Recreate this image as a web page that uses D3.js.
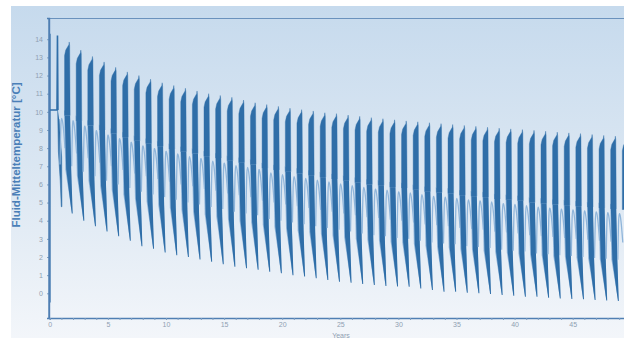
<!DOCTYPE html>
<html><head><meta charset="utf-8">
<script src="https://cdn.jsdelivr.net/npm/d3@7/dist/d3.min.js"></script>
<style>body{margin:0;background:#fff}svg{display:block}</style>
</head><body>
<svg id="chart" width="624" height="338"></svg>
<script>
// ---- data ----
const years = d3.range(1, 50);               // heating/cooling cycle index
// peak of the dense bar of each year (°C)
const peakVals = [13.85,13.4,13.05,12.75,12.45,12.2,12.0,11.8,11.6,11.45,
  11.3,11.15,11.0,10.9,10.8,10.65,10.5,10.4,10.3,10.2,
  10.12,10.05,9.95,9.9,9.82,9.75,9.68,9.62,9.56,9.5,
  9.45,9.4,9.35,9.3,9.25,9.2,9.15,9.1,9.06,9.02,
  8.98,8.93,8.88,8.84,8.8,8.75,8.7,8.66,8.6];
// level where the dense bar turns into the narrowing spike (°C)
const archVals = [9.8,9.5,9.25,9.0,8.8,8.6,8.4,8.25,8.1,7.95,
  7.8,7.7,7.55,7.45,7.3,7.2,7.1,6.9,6.8,6.7,
  6.6,6.5,6.4,6.3,6.2,6.1,6.0,5.95,5.85,5.8,
  5.7,5.6,5.55,5.5,5.4,5.35,5.3,5.2,5.15,5.1,
  5.0,4.95,4.9,4.85,4.8,4.75,4.7,4.65,4.6];
// yearly minimum after each bar, index 0 = start-up year (°C)
const minVals = [4.77,4.4,4.0,3.7,3.4,3.15,2.9,2.6,2.45,2.25,
  2.1,2.0,1.87,1.74,1.6,1.47,1.38,1.3,1.19,1.1,
  1.0,0.92,0.83,0.73,0.64,0.58,0.51,0.46,0.4,0.38,
  0.36,0.27,0.18,0.09,0.09,0.03,0.0,-0.04,-0.09,-0.13,
  -0.19,-0.19,-0.24,-0.28,-0.31,-0.33,-0.37,-0.4,-0.42];
// start-up: [time, value] points of the first months
const startT = [0, 0, 0, 0.62, 0.66, 0.7];
const startV = [-0.5, 14.3, 10.1, 10.1, 14.2, 10.1];
const xTickVals = [0,5,10,15,20,25,30,35,40,45];
const yTickVals = [0,1,2,3,4,5,6,7,8,9,10,11,12,13,14];

// ---- layout ----
const W = 624, H = 338;
const svg = d3.select("#chart");
const x = d3.scaleLinear().domain([0, 50]).range([49.8, 630.8]);
const y = d3.scaleLinear().domain([-1.36, 15.17]).range([318, 18]);
const dark = "#2f6ea8", light = "#8fb5da";
const font = "Liberation Sans, Arial, sans-serif";

const defs = svg.append("defs");
const g1 = defs.append("linearGradient").attr("id","bg").attr("x1",0).attr("y1",0).attr("x2",0).attr("y2",1);
g1.append("stop").attr("offset","0%").attr("stop-color","#c6daed");
g1.append("stop").attr("offset","55%").attr("stop-color","#dde8f3");
g1.append("stop").attr("offset","100%").attr("stop-color","#f3f6fa");
defs.append("clipPath").attr("id","clip").append("rect")
  .attr("x",49).attr("y",18).attr("width",W-49).attr("height",300);

svg.append("rect").attr("x",11).attr("y",6).attr("width",W-11).attr("height",H-6).attr("fill","url(#bg)");

const plot = svg.append("g").attr("clip-path","url(#clip)");
const line = d3.line().x(d=>x(d[0])).y(d=>y(d[1]));
const curve = d3.line().curve(d3.curveBasis).x(d=>x(d[0])).y(d=>y(d[1]));

// start-up year
plot.append("path").attr("d", line(startT.map((t,i)=>[t,startV[i]])))
  .attr("fill","none").attr("stroke",dark).attr("stroke-width",1.6);

const bs = 0.27, be = 0.72, sp = 0.93;   // bar start/end, spike time within a year

// start-up descent to first minimum
plot.append("path").attr("d", line([
  [0.68, 10.1],[0.74, 7.8],[0.9, 6.2],[0.99, minVals[0]],[1.04, minVals[0]],[1.02, 7.5],[0.8, 9.6]]))
  .attr("fill",dark).attr("stroke",dark).attr("stroke-width",0.6);

years.forEach((k, i) => {
  const P = peakVals[i], A = archVals[i], M = minVals[i+1];
  const A0 = i === 0 ? 9.9 : archVals[i-1];
  const s = k + bs, e = k + be, m = k + sp;
  const mid = A - 0.55 * (A - M);
  // light arch from previous spike toward this bar
  const prevRight = (k - 1) + be;
  plot.append("path")
    .attr("d", curve([
      [prevRight + 0.16, A0 - 2.8],[prevRight + 0.22, A0 - 0.6],[k + 0.0, A0 - 0.1],
      [k + 0.16, A - 0.5],[s + 0.04, A - 1.8]]))
    .attr("fill","none").attr("stroke",light).attr("stroke-width",1.3);
  // lighter shadow left of the spike
  plot.append("path")
    .attr("d", line([
      [s - 0.05, A + 0.3],[s + 0.06, mid],[m - 0.1, M + 0.3],[m, M],[e, A]]))
    .attr("fill",light).attr("stroke","none");
  // narrowing spike down to the yearly minimum
  plot.append("path")
    .attr("d", line([
      [s + 0.02, A],[s + 0.14, mid],[m - 0.04, M],[m + 0.04, M],[e + 0.12, mid],[e + 0.03, A]]))
    .attr("fill",dark).attr("stroke","none");
  // dense bar
  plot.append("path")
    .attr("d", line([
      [s, A],[s, P - 0.75],[s + 0.1, P - 0.45],[e - 0.08, P - 0.15],
      [e - 0.05, P],[e - 0.01, P - 0.2],[e + 0.03, A]]))
    .attr("fill",dark).attr("stroke",dark).attr("stroke-width",0.4);
});

// frame
svg.append("line").attr("x1",49).attr("x2",W).attr("y1",18.5).attr("y2",18.5)
  .attr("stroke","#6a92bd").attr("stroke-width",1.2);

// axes
const tickCol = "#8fa0b2";
const yAxis = svg.append("g").attr("transform","translate(49,0)")
  .call(d3.axisLeft(y).tickValues(yTickVals).tickSize(2).tickPadding(4).tickFormat(d3.format("d")));
const xAxis = svg.append("g").attr("transform","translate(0,318)")
  .call(d3.axisBottom(x).tickValues(d3.range(0,50)).tickSize(2).tickPadding(2.5)
    .tickFormat(d => xTickVals.includes(d) ? d : ""));
[yAxis, xAxis].forEach(a => {
  a.select(".domain").attr("stroke","#4f7fb3").attr("stroke-width",1.4);
  a.selectAll(".tick line").attr("stroke","#7f9fc2");
  a.selectAll("text").attr("fill",tickCol).attr("font-family",font).attr("font-size",7);
});
svg.append("line").attr("x1",49).attr("x2",49).attr("y1",18).attr("y2",318)
  .attr("stroke","#4f7fb3").attr("stroke-width",1.4);

svg.append("text").attr("x",341).attr("y",338).attr("text-anchor","middle")
  .attr("fill",tickCol).attr("font-family",font).attr("font-size",7).text("Years");
svg.append("text").attr("transform","translate(20,155) rotate(-90)").attr("text-anchor","middle")
  .attr("fill","#4a7fb8").attr("font-family",font).attr("font-weight","bold")
  .attr("font-size",11.5).text("Fluid-Mitteltemperatur [°C]");
</script>
</body></html>
